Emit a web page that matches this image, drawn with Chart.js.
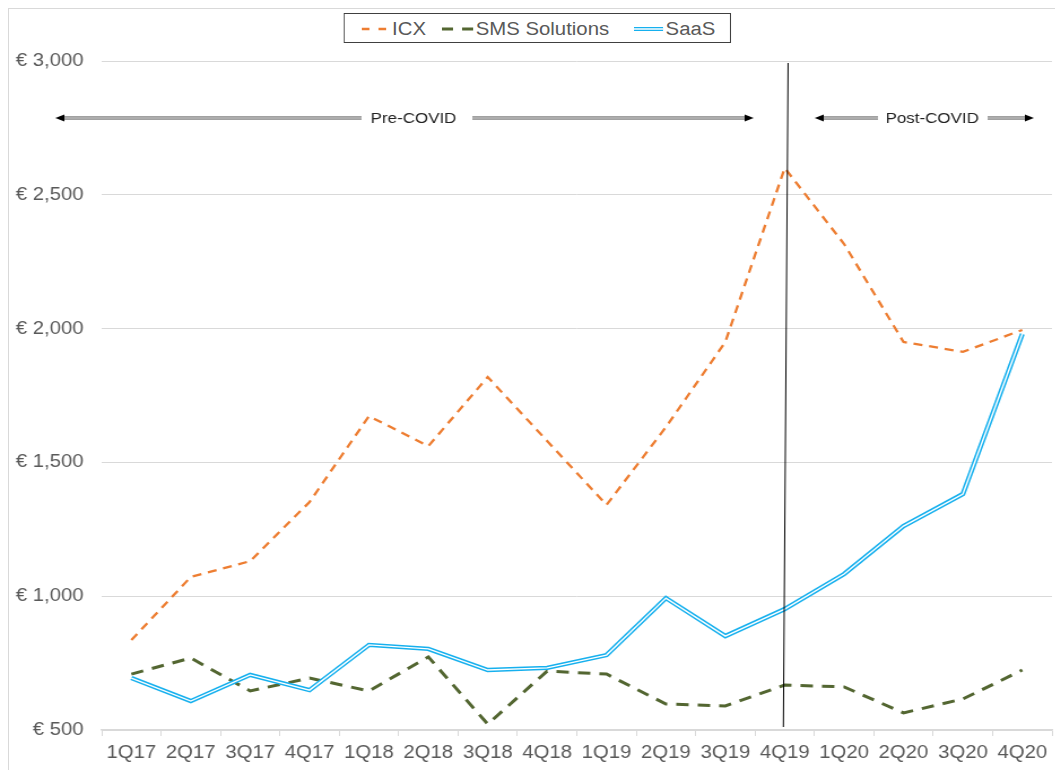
<!DOCTYPE html>
<html>
<head>
<meta charset="utf-8">
<script src="https://cdn.jsdelivr.net/npm/chart.js@4.4.0/dist/chart.umd.min.js"></script>
<style>
html, body { margin: 0; padding: 0; background: #fff; overflow: hidden; }
#frame { position: absolute; left: 8px; top: 8px; width: 1100px; height: 800px; border: 1px solid #d9d9d9; }
#wrap { position: absolute; left: 9px; top: 9px; width: 926px; height: 761px; transform: scaleX(1.13); transform-origin: 0 0; }
#legend { position: absolute; left: 296px; top: 4px; width: 343px; height: 30px; box-sizing: border-box;
	border: 1px solid #404040; background: #fff; font: 18px "Liberation Sans", Arial, sans-serif; color: #595959;
	display: flex; align-items: center; padding-left: 15px; padding-top: 2px; }
#legend svg { display: block; }
.item { display: flex; align-items: center; }
</style>
</head>
<body>
<div id="frame"></div>
<div id="wrap">
	<canvas id="chart" width="926" height="761"></canvas>
	<div id="legend"></div>
</div>
<script>
const categories = ["1Q17", "2Q17", "3Q17", "4Q17", "1Q18", "2Q18", "3Q18", "4Q18",
	"1Q19", "2Q19", "3Q19", "4Q19", "1Q20", "2Q20", "3Q20", "4Q20"];
const icx = [836, 1072, 1131, 1352, 1673, 1561, 1819, 1580, 1341, 1632, 1950, 2600, 2316, 1950, 1913, 1995];
const sms = [709, 769, 646, 694, 646, 773, 522, 720, 709, 597, 590, 668, 661, 564, 616, 724];
const saas = [694, 608, 706, 649, 818, 803, 724, 732, 780, 993, 851, 952, 1083, 1262, 1382, 1980];
const yMin = 500;
const yMax = 3000;
const yStep = 500;
const covidSplit = "4Q19";

const orange = "#ED7D31";
const green = "#536631";
const blue = "#16B0EE";

// legend (html)
function swatch(kind) {
	if (kind === "icx") {
		return '<svg width="22" height="10"><line x1="0" y1="5" x2="22" y2="5" stroke="' + orange + '" stroke-width="2.5" stroke-dasharray="7,8"/></svg>';
	}
	if (kind === "sms") {
		return '<svg width="28" height="10"><line x1="0" y1="5" x2="28" y2="5" stroke="' + green + '" stroke-width="3" stroke-dasharray="10,8"/></svg>';
	}
	return '<svg width="26" height="10"><line x1="0" y1="5" x2="26" y2="5" stroke="' + blue + '" stroke-width="4"/><line x1="0" y1="5" x2="26" y2="5" stroke="#fff" stroke-width="1.3"/></svg>';
}
document.getElementById("legend").innerHTML =
	'<div class="item">' + swatch("icx") + '<span style="margin-left:5px">ICX</span></div>' +
	'<div class="item" style="margin-left:14px">' + swatch("sms") + '<span style="margin-left:2px">SMS Solutions</span></div>' +
	'<div class="item" style="margin-left:22px">' + swatch("saas") + '<span style="margin-left:2px">SaaS</span></div>';

function arrowHead(ctx, x, y, dir) {
	ctx.beginPath();
	ctx.moveTo(x, y);
	ctx.lineTo(x - dir * 8, y - 3.5);
	ctx.lineTo(x - dir * 8, y + 3.5);
	ctx.closePath();
	ctx.fill();
}

function shaft(ctx, x1, x2, y) {
	ctx.lineWidth = 3.2;
	ctx.strokeStyle = "#444";
	ctx.beginPath(); ctx.moveTo(x1, y); ctx.lineTo(x2, y); ctx.stroke();
	ctx.lineWidth = 1.3;
	ctx.strokeStyle = "#d0d0d0";
	ctx.beginPath(); ctx.moveTo(x1, y); ctx.lineTo(x2, y); ctx.stroke();
}

const covidPlugin = {
	id: "covid",
	afterDatasetsDraw(chart) {
		const { ctx, chartArea: a, scales: { x } } = chart;
		const xs = x.getPixelForValue(categories.indexOf(covidSplit));
		ctx.save();
		ctx.strokeStyle = "#000";
		ctx.lineWidth = 1;
		ctx.beginPath();
		ctx.moveTo(xs + 3, a.top + 2);
		ctx.lineTo(xs - 1.2, a.bottom - 3);
		ctx.stroke();

		const y = a.top + 57;
		const L = a.left;
		ctx.fillStyle = "#000";
		// pre-covid
		shaft(ctx, L - 36, L + 230, y);
		arrowHead(ctx, L - 41, y, -1);
		shaft(ctx, L + 328, L + 572, y);
		arrowHead(ctx, L + 577, y, 1);
		// post-covid
		shaft(ctx, L + 636, L + 687, y);
		arrowHead(ctx, L + 631, y, -1);
		shaft(ctx, L + 784, L + 820, y);
		arrowHead(ctx, L + 825, y, 1);

		ctx.fillStyle = "#222";
		ctx.font = '15px "Liberation Sans", Arial, sans-serif';
		ctx.textAlign = "center";
		ctx.textBaseline = "middle";
		ctx.fillText("Pre-COVID", L + 276, y + 1);
		ctx.fillText("Post-COVID", L + 735, y + 1);
		ctx.restore();
	}
};

Chart.defaults.font.family = '"Liberation Sans", Arial, sans-serif';
Chart.defaults.font.size = 18;
Chart.defaults.color = "#595959";

new Chart(document.getElementById("chart"), {
	type: "line",
	data: {
		labels: categories,
		datasets: [
			{ label: "SaaS", data: saas, borderColor: "#fff", borderWidth: 1.4, order: 0 },
			{ label: "SaaS", data: saas, borderColor: blue, borderWidth: 4.4, order: 1 },
			{ label: "SMS Solutions", data: sms, borderColor: green, borderWidth: 3, borderDash: [11, 8], order: 2 },
			{ label: "ICX", data: icx, borderColor: orange, borderWidth: 2.3, borderDash: [8, 6], order: 3 },
		],
	},
	options: {
		responsive: false,
		animation: false,
		events: [],
		layout: { padding: { top: 52, left: 0, right: 3, bottom: 0 } },
		elements: {
			point: { radius: 0 },
			line: { tension: 0, fill: false, borderCapStyle: "butt" },
		},
		plugins: {
			legend: { display: false },
			tooltip: { enabled: false },
		},
		scales: {
			x: {
				offset: true,
				grid: { drawOnChartArea: false, drawTicks: true, tickLength: 6, color: "#d9d9d9", offset: true },
				border: { display: true, color: "#d9d9d9", width: 1.5 },
				ticks: { padding: 6, maxRotation: 0, autoSkip: false },
				afterFit(scale) { scale.height = 40; },
			},
			y: {
				min: yMin,
				max: yMax,
				ticks: {
					stepSize: yStep,
					padding: 16,
					callback: (v) => "€ " + v.toLocaleString("en-US"),
				},
				grid: { color: "#d9d9d9", drawTicks: false },
				border: { display: false },
				afterFit(scale) { scale.width = 82; },
			},
		},
	},
	plugins: [covidPlugin],
});
</script>
</body>
</html>
